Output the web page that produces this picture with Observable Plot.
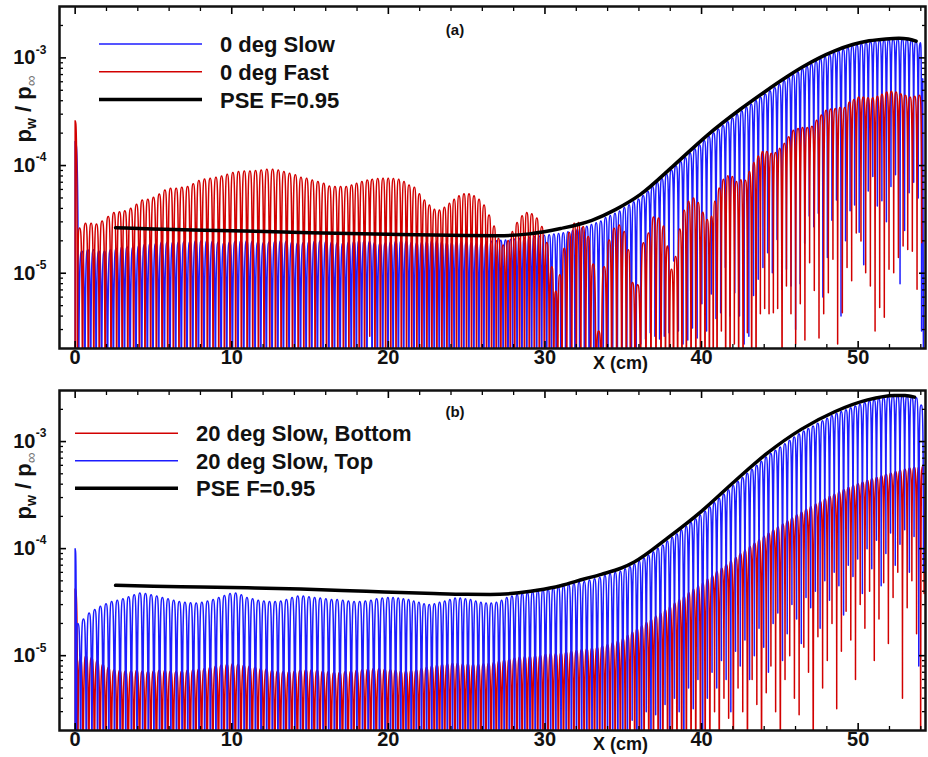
<!DOCTYPE html>
<html><head><meta charset="utf-8">
<script src="https://cdn.jsdelivr.net/npm/d3@7"></script>
<script src="https://cdn.jsdelivr.net/npm/@observablehq/plot@0.6"></script>
<style>
body{margin:0;background:#fff;}
#chart{width:928px;height:757px;}
#chart svg{display:block;}
</style></head><body><div id="chart"></div>
<script>
// values in units of 1e-6 (p_w / p_inf)
const UNIT = 1e-6;
const xMajor = [0,10,20,30,40,50];
const xMinor = [2,4,6,8,12,14,16,18,22,24,26,28,32,34,36,38,42,44,46,48,52,54];
const yMajor = [1e-5,1e-4,1e-3];
const yExp = ["-5","-4","-3"];
const yMinor = [3e-6,4e-6,5e-6,6e-6,7e-6,8e-6,9e-6,2e-5,3e-5,4e-5,5e-5,6e-5,7e-5,8e-5,9e-5,2e-4,3e-4,4e-4,5e-4,6e-4,7e-4,8e-4,9e-4,2e-3];

// ---- Panel (a): 0 deg Fast (red) peaks
const redA_x = [0,0.28,0.66,1.02,1.36,1.72,2.11,2.47,2.83,3.17,
3.55,3.92,4.28,4.64,5.00,5.37,5.73,6.09,6.45,6.81,
7.18,7.54,7.90,8.26,8.62,8.99,9.35,9.71,10.07,10.43,
10.80,11.16,11.52,11.88,12.24,12.61,12.97,13.33,13.69,14.06,
14.42,14.78,15.14,15.50,15.87,16.23,16.59,16.95,17.31,17.65,
17.97,18.31,18.65,18.97,19.32,19.66,19.99,20.32,20.66,21.00,
21.32,21.66,21.98,22.30,22.62,22.94,23.26,23.58,23.90,24.20,
24.51,24.83,25.15,25.47,25.79,26.11,26.43,26.75,27.03,27.33,
27.65,27.92,28.22,28.54,28.84,29.16,29.48,29.80,30.12,30.44,
30.69,30.95,31.23,31.55,31.87,32.14,32.44,32.76,33.08,33.43,
33.78,34.10,34.42,34.74,35.06,35.32,35.59,35.92,36.29,36.61,
36.93,37.25,37.57,37.82,38.08,38.34,38.61,38.89,39.17,39.49,
39.78,40.08,40.36,40.64,40.85,41.13,41.40,41.68,41.96,42.23,
42.51,42.79,43.06,43.34,43.62,43.89,44.17,44.45,44.72,45.00,
45.28,45.56,45.86,46.16,46.45,46.75,47.05,47.35,47.65,47.95,
48.24,48.54,48.84,49.14,49.44,49.73,50.03,50.33,50.63,50.93,
51.23,51.52,51.82,52.12,52.42,52.72,53.02,53.31,53.61,53.91];
const redA_v = [260,26.3,29.1,29.1,28.7,30.6,33.6,36.6,37.3,38.0,
40.2,43.7,48.0,48.7,50.8,54.5,59.4,61.6,61.6,63.0,
63.8,67.6,72.6,75.0,76.3,78.0,80.0,83.0,86.0,88.0,
89.0,89.0,89.8,91.0,92.5,92.5,91.0,88.0,85.0,82.0,
78.0,76.3,73.6,71.0,68.6,64.7,63.8,63.8,63.8,66.1,
68.5,71.0,73.6,74.6,75.7,76.3,76.3,75.7,74.6,71.0,
66.1,62.9,54.6,48.0,43.1,39.3,38.7,41.0,44.7,48.7,
52.3,54.6,54.6,52.3,48.7,43.1,34.8,27.5,21.1,18.3,
20.1,24.4,29.6,34.1,36.6,35.6,32.5,27.1,19.3,11.5,
6.8,9.7,17.1,23.9,29.1,29.6,27.1,21.9,12.2,2.9,
11.5,20.4,26.2,28.1,24.4,16.5,8.2,7.8,19.2,23.7,
33.3,32.6,27.4,17.9,10.9,14.3,25.8,38.5,46.6,49.9,
45.5,36.8,31.5,33.8,46.6,61.8,74.8,80.3,79.0,71.0,
74.0,73.0,88.0,107,123,135,135,130,132,145,
161,185,213,221,226,226,232,264,294,327,
336,338,346,346,390,410,433,433,427,427,
440,459,482,489,482,465,450,433,440,450];
// visible minima (x, value); all other minima fall below the frame
const redA_tx = [18.81,41.26,42.09,42.92,43.75,44.03,44.31,44.58,44.86,45.42,45.71,46.01,46.30,46.60,46.90,47.20,47.50,47.80,48.09,48.39,48.69,48.99,49.29,49.58,49.88,50.18,50.48,50.78,51.08,51.37,51.67,51.97,52.27,52.57,52.87,53.16,53.46,53.76,54.06];
const redA_tv = [2.6,2.9,2.2,2.8,4.2,4.7,4.2,4.3,4.7,7.6,4.2,2.2,5.2,2.4,12.5,6.9,2.5,4.2,6.6,13.5,2.2,4.3,11.3,8.5,23.7,19.9,10.1,7.6,2.9,4.8,3.9,10.9,10.1,14,17.9,16.6,16,7.1,19.2];

// ---- Panel (a): 0 deg Slow (blue) peaks
const blueA_x = [0,0.43,0.81,1.17,1.51,1.87,2.26,2.62,2.98,3.32,
3.70,4.07,4.43,4.79,5.15,5.52,5.88,6.24,6.60,6.96,
7.33,7.69,8.05,8.41,8.77,9.14,9.50,9.86,10.22,10.58,
10.95,11.31,11.67,12.03,12.39,12.76,13.12,13.48,13.84,14.21,
14.57,14.93,15.29,15.65,16.02,16.38,16.74,17.10,17.46,17.80,
18.12,18.46,18.80,19.12,19.47,19.81,20.14,20.47,20.81,21.15,
21.47,21.81,22.13,22.45,22.77,23.09,23.41,23.73,24.05,24.35,
24.66,24.98,25.30,25.62,25.94,26.26,26.58,26.90,27.18,27.48,
27.80,28.07,28.37,28.69,28.99,29.31,29.63,29.95,30.27,30.57,
30.87,31.17,31.47,31.77,32.07,32.37,32.67,32.97,33.27,33.57,
33.87,34.17,34.47,34.77,35.07,35.37,35.67,35.97,36.27,36.57,
36.87,37.17,37.47,37.77,38.07,38.37,38.67,38.97,39.27,39.57,
39.87,40.17,40.47,40.77,41.07,41.37,41.67,41.97,42.27,42.57,
42.87,43.17,43.47,43.77,44.07,44.37,44.67,44.97,45.27,45.57,
45.86,46.15,46.44,46.73,47.02,47.31,47.60,47.89,48.18,48.47,
48.76,49.05,49.34,49.63,49.92,50.21,50.50,50.79,51.08,51.37,
51.66,51.95,52.24,52.53,52.82,53.11,53.40,53.69,53.98,54.12];
const blueA_v = [167,16,16.5,16.5,16,16,16.5,17,17.5,17.5,
17.5,18,18.5,19,19,19.5,19.5,19.5,19.5,19.7,
19.7,20,20,20,19.8,19.5,19.2,19.5,19.8,20,
20,19.8,19.5,19.3,19.5,19.8,20,19.8,19.5,19.2,
19.3,19.6,19.9,20,19.8,19.5,19.2,19.2,19.5,19.8,
20,20,19.7,19.3,19,19.2,19.5,19.8,20,19.8,
19.4,19.2,19.4,19.7,19.9,19.8,19.5,19.2,19.3,19.6,
19.8,19.6,19.3,19,19.2,19.5,19.8,20,20.2,20.4,
20.6,20.8,21,21.3,21.6,21.9,22.2,22.5,22.8,23.1,
23.4,23.8,24.3,24.9,25.6,26.4,27.3,28.3,29.4,30.6,
33,34.4,36,37.8,40.7,43.3,46,49,52.7,57.6,
64,70,76,83,91,99.5,109,119,130,143,
156,171,187,202,218,236,256,277,299,323,
347,373,401,431,463,496,531,569,615,660,
702,745,793,837,883,932,981,1025,1072,1120,
1163,1205,1250,1295,1325,1355,1388,1415,1435,1450,
1468,1480,1488,1498,1497,1485,1455,1415,1380,640];
const blueA_tx = [36.12,36.42,36.72,37.02,37.32,37.62,37.92,38.22,38.52,38.82,39.12,39.42,39.72,40.02,40.32,40.62,40.92,41.22,41.52,41.82,42.12,42.42,42.72,43.02,43.32,43.62,43.92,44.22,44.52,44.82,45.12,45.42,45.72,
46.0,46.3,46.58,46.88,47.16,47.46,47.74,48.04,48.32,48.62,48.9,49.2,49.48,49.78,50.06,50.36,50.64,50.94,51.22,51.52,51.8,52.1,52.38,52.68,52.96,53.26,53.54,53.84,54.05];
const blueA_tv = [2.2,2.45,2.8,2.6,2.45,2.6,2.8,13,2.9,2.2,2.4,3.1,2.5,5.2,2.9,6.4,3.8,4.3,11.3,4.0,6.6,4.0,2.2,2.6,6.2,8.8,11.3,15.5,10.1,20.6,7.1,10.9,7.6,
3,8,19,34,27,36,6,14,31,48,4,20,38,43,24,12,58,79,42,47,30,64,82,8,25,56,70,50,2.9];

const pseA_x = [2.58,5,10,15,20,25,27,29,31,33,34.5,36.1,38.25,40.38,42.5,44,45.4,46.5,47.52,48.5,49.65,50.7,51.78,52.6,53.2,53.7];
const pseA_v = [26.5,25.8,24.8,23.8,23,22.4,22.3,23.2,26,31,39,54,101,192,335,480,660,830,1000,1160,1330,1440,1500,1520,1500,1430];

// ---- Panel (b): 20 deg Slow, Top (blue) peaks
const blueB_x = [0,0.17,0.53,0.89,1.25,1.61,1.97,2.33,2.69,3.05,3.41,
3.77,4.13,4.49,4.85,5.21,5.57,5.93,6.29,6.65,7.01,
7.37,7.73,8.09,8.45,8.81,9.17,9.53,9.89,10.25,10.61,
10.97,11.33,11.69,12.05,12.41,12.77,13.13,13.49,13.85,14.21,
14.57,14.93,15.29,15.65,16.01,16.37,16.73,17.09,17.45,17.81,
18.17,18.53,18.89,19.25,19.61,19.97,20.30,20.63,20.96,21.29,
21.62,21.95,22.28,22.61,22.94,23.27,23.60,23.93,24.26,24.59,
24.92,25.25,25.58,25.91,26.24,26.57,26.90,27.23,27.56,27.89,
28.22,28.55,28.88,29.21,29.54,29.87,30.20,30.53,30.86,31.19,
31.52,31.85,32.18,32.51,32.84,33.17,33.50,33.83,34.16,34.49,
34.82,35.12,35.42,35.72,36.02,36.32,36.62,36.92,37.22,37.52,
37.82,38.12,38.42,38.72,39.02,39.32,39.62,39.92,40.22,40.52,
40.82,41.12,41.42,41.72,42.02,42.32,42.62,42.92,43.22,43.52,
43.82,44.12,44.42,44.72,45.02,45.32,45.62,45.92,46.22,46.52,
46.82,47.12,47.42,47.72,48.02,48.32,48.62,48.92,49.22,49.52,
49.82,50.12,50.42,50.72,51.02,51.32,51.62,51.92,52.22,52.52,
52.82,53.12,53.42,53.72,54.02];
const blueB_v = [100,20,22,25,27,29,30.5,32,33,34,35.5,
37,38.5,38,37,36,35,34,33,32,31.6,
31.3,31,31.5,32.5,33.5,35,36.5,38,38.5,37,
35,34,33,32.5,32,32,32.5,33.5,35,36,
36,35.5,35,34.5,34,33.5,33.5,33,32.5,32,
32,32.5,33,34,34.5,35,35,34.5,34,33.5,
32.5,31.5,30.5,30,30.5,31.5,32.5,33.5,34.5,34.5,
34,33.5,32.5,31.5,31,31,31.5,33,35,36,
37.2,38,38.8,39.5,40.4,41.2,41.8,42.8,43.9,45,
46.2,47.3,48.5,49.4,50.8,52.4,53.9,56,58.4,60.3,
61.6,64.9,68.2,71.9,77,81.8,87.4,93.5,100.6,108,
118,128,138,150,162,176,190,206,225,246,
270,296,324,355,389,425,463,506,552,602,
656,716,773,830,890,956,1027,1102,1183,1257,
1325,1400,1480,1565,1655,1750,1840,1910,1985,2065,
2145,2230,2320,2400,2460,2520,2580,2640,2660,2680,
2680,2660,2610,2560,2200];
const blueB_tx = [35.57,36.47,37.07,37.67,38.27,38.57,39.17,39.47,39.77,40.37,40.67,40.97,41.27,41.57,41.87,42.17,42.47,42.77,43.07,43.37,43.67,43.97,44.27,44.57,44.87,45.17,45.47,45.77,46.07,46.37,46.67,46.97,47.27,47.57,47.87,48.17,48.47,48.77,49.07,49.37,49.67,49.97,50.27,50.57,50.87,51.17,51.47,51.77,52.07,52.37,52.67,52.97,53.27,53.57,53.87,54.17];
const blueB_tv = [2.5,3,2.8,3.5,4,3,5,3.2,6,4,7,5,9,6,3,11,8,14,6,10,18,12,7,20,25,9,16,30,22,13,35,28,40,18,50,33,60,45,24,70,55,80,38,100,65,120,45,90,140,70,110,150,60,130,8,60];

// ---- Panel (b): 20 deg Slow, Bottom (red) peaks
const redB_x = [0,0.33,0.69,1.05,1.41,1.77,2.13,2.49,2.85,3.21,3.57,
3.93,4.29,4.65,5.01,5.37,5.73,6.09,6.45,6.81,7.17,
7.53,7.89,8.25,8.61,8.97,9.33,9.69,10.05,10.41,10.77,
11.13,11.49,11.85,12.21,12.57,12.93,13.29,13.65,14.01,14.37,
14.73,15.09,15.45,15.81,16.17,16.53,16.89,17.25,17.61,17.97,
18.33,18.69,19.05,19.41,19.77,20.13,20.46,20.79,21.12,21.45,
21.78,22.11,22.44,22.77,23.10,23.43,23.76,24.09,24.42,24.75,
25.08,25.41,25.74,26.07,26.40,26.73,27.06,27.39,27.72,28.05,
28.38,28.71,29.04,29.37,29.70,30.03,30.36,30.69,31.02,31.35,
31.68,32.01,32.34,32.67,33.00,33.33,33.66,33.99,34.32,34.65,
34.98,35.28,35.58,35.88,36.18,36.48,36.78,37.08,37.38,37.68,
37.98,38.28,38.58,38.88,39.18,39.48,39.78,40.08,40.38,40.68,
40.98,41.28,41.58,41.88,42.18,42.48,42.78,43.08,43.38,43.68,
43.98,44.28,44.58,44.88,45.18,45.48,45.78,46.08,46.38,46.68,
46.98,47.28,47.58,47.88,48.18,48.48,48.78,49.08,49.38,49.68,
49.98,50.28,50.58,50.88,51.18,51.48,51.78,52.08,52.38,52.68,
52.98,53.28,53.58,53.88,54.10];
const redB_v = [42,9.3,10,9.6,9,8.3,7.8,7.4,7.3,7.2,7.2,
7.3,7.2,7.1,7.2,7.3,7.3,7.2,7.1,7.2,7.3,
7.4,7.5,7.6,7.8,8,8.2,8.3,8.4,8.3,8.2,
8,7.8,7.6,7.5,7.3,7.2,7.1,7.1,7.2,7.3,
7.4,7.4,7.3,7.2,7.1,7,7,7.1,7.2,7.3,
7.4,7.5,7.6,7.6,7.5,7.4,7.3,7.2,7.2,7.3,
7.4,7.6,7.8,8,8.2,8.3,8.4,8.5,8.5,8.4,
8.4,8.3,8.3,8.4,8.5,8.7,8.9,9.1,9.3,9.5,
9.7,9.8,9.9,10,10.1,10.3,10.4,10.5,10.6,10.8,
11,11.2,11.4,11.6,11.8,12,12.3,12.7,13.2,13.8,
14.5,15.5,16.6,17.8,19,20.5,22,23.5,25,27,
29,31,33.5,36,39,42,45,48,52,56,
61,66,71,77,83,90,97,105,113,122,
131,140,150,160,171,182,194,207,220,234,
248,262,277,292,308,324,340,357,374,390,
405,420,435,450,465,480,495,510,525,540,
555,565,575,580,585];
const redB_tx = [40.97,41.57,41.87,42.47,42.77,43.37,43.67,44.27,44.57,44.87,45.47,45.77,46.07,46.37,46.67,46.97,47.57,47.87,48.17,48.47,48.77,49.07,49.37,49.67,49.97,50.27,50.57,50.87,51.17,51.47,51.77,52.07,52.37,52.67,52.97,53.27,53.57,53.87,54.17];
const redB_tv = [3,4,2.6,5,3,6,3.5,4.5,8,3,6,10,4,2.8,12,7,15,5,9,20,3.2,11,26,14,6,30,18,40,9,22,48,13,35,60,4,28,50,16,38];

const pseB_x = [2.58,5,8,11,14.4,18.6,22.9,25,26.5,28,29.5,31,32.5,33.6,34.9,35.7,37.84,39.97,42.1,44.2,46.36,48.5,50.6,52.3,53.0,53.6];
const pseB_v = [45.4,44.5,43.8,43,42,39.9,38,37.4,37.3,38.2,40.8,45,52,57.5,66,75,126,222,424,780,1300,1900,2450,2700,2700,2600];

const BLUE = "#1c1cff", RED = "#d20000";
const FONT = "'Liberation Sans', Arial, Helvetica, sans-serif";

// arch-shaped connection: rounded maxima, sharp minima (how the wave is drawn)
function curveArch(context) {
  let x0, y0, n = 0;
  return {
    areaStart() {}, areaEnd() {},
    lineStart() { n = 0; },
    lineEnd() {},
    point(x, y) {
      x = +x; y = +y;
      if (n === 0) context.moveTo(x, y);
      else if (y < y0) context.bezierCurveTo(x0, y, x - 0.55 * (x - x0), y, x, y);
      else context.bezierCurveTo(x0 + 0.55 * (x - x0), y0, x, y0, x, y);
      x0 = x; y0 = y; n++;
    }
  };
}

// peaks with the minimum between consecutive peaks (below the frame when not read)
function waveRows(xs, vs, txs, tvs) {
  const FLOOR = 1e-7;
  const rows = [{x: xs[0], y: FLOOR}];
  for (let i = 0; i < xs.length; i++) {
    rows.push({x: xs[i], y: vs[i] * UNIT});
    const xn = i + 1 < xs.length ? xs[i + 1] : xs[i] + (xs[i] - xs[i - 1]);
    let cy = FLOOR;
    for (let j = 0; j < txs.length; j++) if (txs[j] > xs[i] && txs[j] <= xn) cy = tvs[j] * UNIT;
    rows.push({x: (xs[i] + xn) / 2, y: cy});
  }
  return rows;
}
const curveRows = (xs, vs) => xs.map((x, i) => ({x, y: vs[i] * UNIT}));

function panel({height, mt, mb, series, pse, legend, tag, labelCy, xlabelY}) {
  const marks = [];
  for (const s of series) marks.push(Plot.line(s.rows, {x: "x", y: "y", stroke: s.color, strokeWidth: 1.5, curve: curveArch, clip: true}));
  marks.push(Plot.line(pse, {x: "x", y: "y", stroke: "black", strokeWidth: 3.5, curve: "monotone-x", clip: true}));
  for (const a of ["bottom", "top"]) {
    marks.push(Plot.axisX({anchor: a, ticks: xMajor, tickSize: -7, strokeWidth: 1.6, tickFormat: () => "", label: null}));
    marks.push(Plot.axisX({anchor: a, ticks: xMinor, tickSize: -4, strokeWidth: 1.3, tickFormat: () => "", label: null}));
  }
  for (const a of ["left", "right"]) {
    marks.push(Plot.axisY({anchor: a, ticks: yMajor, tickSize: -7, strokeWidth: 1.6, tickFormat: () => "", label: null}));
    marks.push(Plot.axisY({anchor: a, ticks: yMinor, tickSize: -4, strokeWidth: 1.3, tickFormat: () => "", label: null}));
  }
  marks.push(Plot.text(xMajor, {x: d => d, frameAnchor: "bottom", dy: 15, text: d => String(d), fontSize: 20, fontWeight: "bold", fill: "#111"}));
  marks.push(Plot.text(yMajor, {y: d => d, frameAnchor: "left", dx: -24, text: () => "10", textAnchor: "end", fontSize: 20, fontWeight: "bold", fill: "#111"}));
  marks.push(Plot.text(yMajor, {y: d => d, frameAnchor: "left", dx: -13, dy: -8, text: (d, i) => yExp[i], textAnchor: "end", fontSize: 12, fontWeight: "bold", fill: "#111"}));
  marks.push(Plot.frame({stroke: "#111", strokeWidth: 2.5}));
  const svgEl = Plot.plot({
    width: 928, height, marginLeft: 59, marginRight: 3, marginTop: mt, marginBottom: mb,
    style: {background: "white", fontFamily: FONT, overflow: "visible"},
    x: {domain: [-1, 54.3], label: null},
    y: {type: "log", domain: [2e-6, 3e-3], label: null},
    marks
  });
  const svg = d3.select(svgEl);
  // y title
  const t = svg.append("text").attr("transform", `translate(31,${labelCy}) rotate(-90)`)
    .attr("text-anchor", "middle").attr("font-family", FONT).attr("font-weight", "bold").attr("font-size", 22).attr("fill", "#111");
  t.append("tspan").text("p");
  t.append("tspan").attr("font-size", 14).attr("dy", 5).text("w");
  t.append("tspan").attr("dy", -5).text(" / p");
  t.append("tspan").attr("font-size", 15).attr("font-weight", "normal").attr("fill", "#777").attr("dy", 5).text("∞");
  // x title
  svg.append("text").attr("x", 593).attr("y", xlabelY).attr("text-anchor", "start").attr("font-family", FONT).attr("font-weight", "bold")
    .attr("font-size", 18).attr("fill", "#111").text("X (cm)");
  // panel tag
  svg.append("text").attr("x", 455).attr("y", tag.y).attr("text-anchor", "middle").attr("font-family", FONT)
    .attr("font-weight", "bold").attr("font-size", 15).attr("fill", "#111").text(tag.text);
  // legend
  legend.items.forEach((it, i) => {
    const y = legend.y0 + i * legend.dy;
    svg.append("line").attr("x1", legend.x1).attr("x2", legend.x2).attr("y1", y).attr("y2", y)
      .attr("stroke", it.color).attr("stroke-width", it.w);
    svg.append("text").attr("x", legend.tx).attr("y", y + 8).attr("text-anchor", "start").attr("font-family", FONT).attr("font-weight", "bold")
      .attr("font-size", 22).attr("fill", "#111").text(it.label);
  });
  return svgEl;
}

const chart = document.getElementById("chart");
chart.appendChild(panel({
  height: 380, mt: 6, mb: 32,
  series: [
    {rows: waveRows(blueA_x, blueA_v, blueA_tx, blueA_tv), color: BLUE},
    {rows: waveRows(redA_x, redA_v, redA_tx, redA_tv), color: RED}
  ],
  pse: curveRows(pseA_x, pseA_v),
  legend: {x1: 99, x2: 202, tx: 220, y0: 44, dy: 27.8, items: [
    {label: "0 deg Slow", color: BLUE, w: 1.5},
    {label: "0 deg Fast", color: RED, w: 1.5},
    {label: "PSE F=0.95", color: "black", w: 3.5}]},
  tag: {text: "(a)", y: 35},
  labelCy: 109, xlabelY: 369
}));
chart.appendChild(panel({
  height: 377, mt: 10, mb: 27,
  series: [
    {rows: waveRows(redB_x, redB_v, redB_tx, redB_tv), color: RED},
    {rows: waveRows(blueB_x, blueB_v, blueB_tx, blueB_tv), color: BLUE}
  ],
  pse: curveRows(pseB_x, pseB_v),
  legend: {x1: 75, x2: 178, tx: 196, y0: 53.3, dy: 27.5, items: [
    {label: "20 deg Slow, Bottom", color: RED, w: 1.5},
    {label: "20 deg Slow, Top", color: BLUE, w: 1.5},
    {label: "PSE F=0.95", color: "black", w: 3.5}]},
  tag: {text: "(b)", y: 37},
  labelCy: 106, xlabelY: 370
}));
</script>
</body></html>
